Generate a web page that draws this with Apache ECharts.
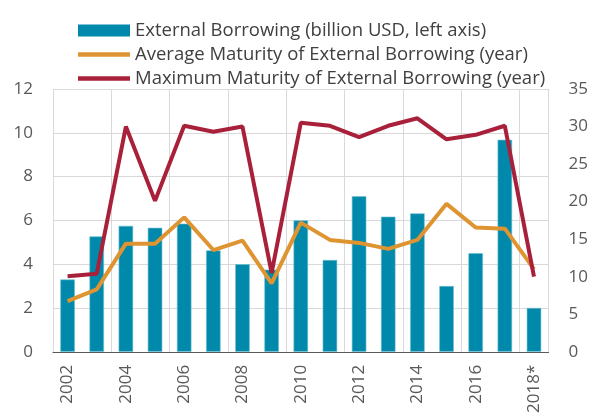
<!DOCTYPE html>
<html>
<head>
<meta charset="utf-8">
<script src="https://cdn.jsdelivr.net/npm/echarts@6/dist/echarts.min.js"></script>
<style>html,body{margin:0;padding:0;background:#fff}#c{width:591px;height:416px}</style>
</head>
<body>
<div id="c"></div>
<script>
const categories = ['2002','2003','2004','2005','2006','2007','2008','2009','2010','2011','2012','2013','2014','2015','2016','2017','2018*'];
const externalBorrowing = [3.3, 5.27, 5.75, 5.66, 5.85, 4.63, 4.0, 3.75, 6.0, 4.19, 7.1, 6.17, 6.32, 3.0, 4.5, 9.68, 2.0];
const avgMaturity = [6.75, 8.3, 14.4, 14.4, 17.9, 13.55, 14.8, 9.1, 17.2, 14.9, 14.5, 13.7, 14.9, 19.7, 16.55, 16.4, 11.0];
const maxMaturity = [10.05, 10.4, 30.0, 20.1, 30.1, 29.3, 30.0, 10.5, 30.5, 30.1, 28.6, 30.1, 31.1, 28.3, 28.9, 30.1, 10.0];
const seriesNames = ['External Borrowing (billion USD, left axis)', 'Average Maturity of External Borrowing (year)', 'Maximum Maturity of External Borrowing (year)'];

const FONT = 'Open Sans';
const LINE_ICON = 'path://M0,0h52v4.5h-52z';
const chart = echarts.init(document.getElementById('c'), null, {renderer: 'canvas'});
chart.setOption({
  animation: false,
  textStyle: {fontFamily: FONT},
  legend: {
    orient: 'vertical', left: 73, top: 16,
    itemWidth: 52, itemHeight: 12, itemGap: 5, symbolKeepAspect: true,
    textStyle: {fontFamily: FONT, fontSize: 18.5, lineHeight: 19, color: '#404040'},
    data: [
      {name: seriesNames[0], icon: 'rect', itemStyle: {borderWidth: 0}},
      {name: seriesNames[1], icon: LINE_ICON},
      {name: seriesNames[2], icon: LINE_ICON}
    ]
  },
  grid: {left: 53, right: 42, top: 89, bottom: 63},
  xAxis: {
    type: 'category', data: categories, boundaryGap: true,
    axisLine: {lineStyle: {color: '#595959', width: 1}},
    axisTick: {interval: 1, length: 6, lineStyle: {color: '#595959'}},
    axisLabel: {interval: 1, rotate: 90, margin: 13, fontSize: 17, color: '#595959', fontFamily: FONT},
    splitLine: {show: true, interval: 1, lineStyle: {color: '#d9d9d9', width: 1}}
  },
  yAxis: [
    {type: 'value', min: 0, max: 12, interval: 2,
     axisLine: {show: false}, axisTick: {show: false},
     axisLabel: {fontSize: 17, color: '#595959', margin: 20, fontFamily: FONT},
     splitLine: {lineStyle: {color: '#d9d9d9', width: 1}}},
    {type: 'value', min: 0, max: 35, interval: 5,
     axisLine: {show: false}, axisTick: {show: false},
     axisLabel: {fontSize: 17, color: '#595959', margin: 20, fontFamily: FONT},
     splitLine: {show: false}}
  ],
  series: [
    {name: seriesNames[0], type: 'bar', data: externalBorrowing, yAxisIndex: 0,
     barWidth: 14.5, itemStyle: {color: '#0089AA', borderColor: '#6fc0d4', borderWidth: 0.6}},
    {name: seriesNames[1], type: 'line', data: avgMaturity, yAxisIndex: 1,
     symbol: 'none', lineStyle: {color: '#DF9432', width: 4}, itemStyle: {color: '#DF9432'}},
    {name: seriesNames[2], type: 'line', data: maxMaturity, yAxisIndex: 1,
     symbol: 'none', lineStyle: {color: '#A8203A', width: 4}, itemStyle: {color: '#A8203A'}}
  ]
});
</script>
</body>
</html>
